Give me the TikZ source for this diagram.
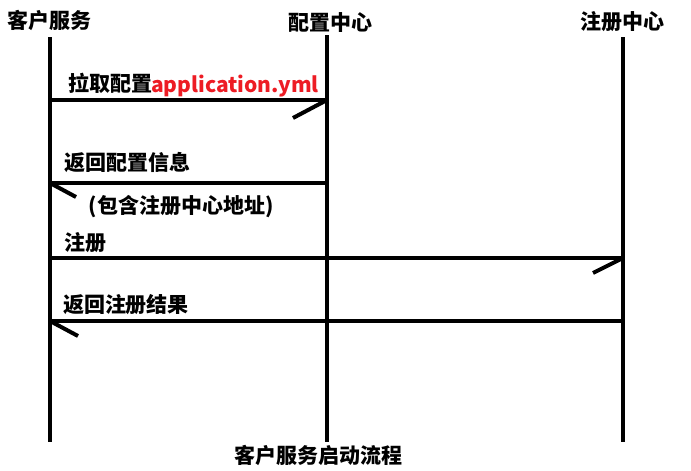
\documentclass[tikz,border=0pt]{standalone}
\usepackage{fontspec}
\newfontfamily\cjk{Noto Sans CJK SC}
\usetikzlibrary{arrows.meta}
\definecolor{labelred}{RGB}{237,28,36}

\begin{document}
\begin{tikzpicture}[x=1pt, y=-1pt,
	every node/.style={font=\cjk\bfseries\fontsize{21}{25}\selectfont, inner sep=0pt},
	lifeline/.style={line width=4pt},
	msg/.style={line width=4pt},
	barb/.style={line width=4pt}]
	\useasboundingbox (0,0) rectangle (691,471);
	% participants
	\node (client) at (50,20) {客户服务};
	\node (config) at (330,23) {配置中心};
	\node (registry) at (622,22) {注册中心};
	\coordinate (client top) at (50,37);
	\coordinate (client bot) at (50,442);
	\coordinate (config top) at (327,35);
	\coordinate (config bot) at (327,442);
	\coordinate (registry top) at (623,37);
	\coordinate (registry bot) at (623,442);
	\draw[lifeline] (client top) -- (client bot);
	\draw[lifeline] (config top) -- (config bot);
	\draw[lifeline] (registry top) -- (registry bot);
	% messages
	\coordinate (m1a) at (50,100);  \coordinate (m1b) at (327,100);
	\coordinate (m2a) at (327,183); \coordinate (m2b) at (50,183);
	\coordinate (m3a) at (50,258);  \coordinate (m3b) at (623,258);
	\coordinate (m4a) at (623,321); \coordinate (m4b) at (50,321);
	\draw[msg] (m1a) -- (m1b);
	\draw[barb] (m1b) -- ++(-34,18);
	\draw[msg] (m2a) -- (m2b);
	\draw[barb] (m2b) -- ++(26,14);
	\draw[msg] (m3a) -- (m3b);
	\draw[barb] (m3b) -- ++(-30,15);
	\draw[msg] (m4a) -- (m4b);
	\draw[barb] (m4b) -- ++(28,15);
	% labels
	\node (pull) at (110,83) {拉取配置};
	\node[text=labelred] (yml) at (235,86) {application.yml};
	\node (reply) at (127,162) {返回配置信息};
	\node (reply note) at (181,207) {(包含注册中心地址)};
	\node (register) at (85,243) {注册};
	\node (result) at (126,305) {返回注册结果};
	\node (caption) at (318,455) {客户服务启动流程};
\end{tikzpicture}
\end{document}
